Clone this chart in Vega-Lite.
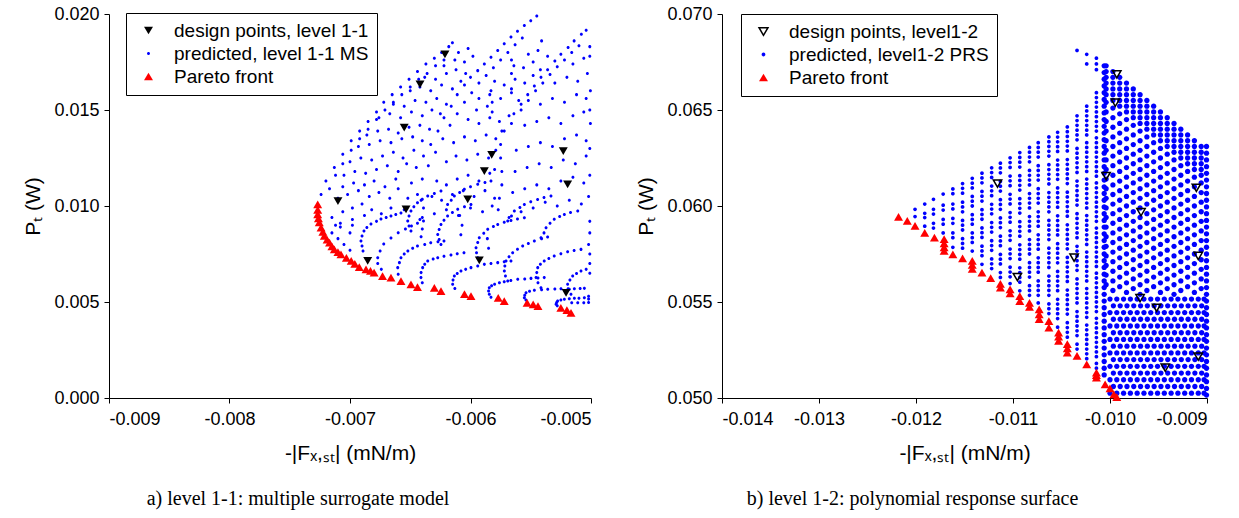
{
"$schema":"https://vega.github.io/schema/vega-lite/v6.json",
"background":"white",
"padding":{"left":22,"top":5,"right":5,"bottom":5},
"spacing":43,
"config":{"view":{"stroke":null},"font":"Liberation Sans",
"axis":{"domainColor":"black","tickColor":"black","labelColor":"black","titleColor":"black","labelFont":"Liberation Sans","titleFont":"Liberation Sans","labelFontSize":18,"titleFontSize":21,"titleFontWeight":"normal","grid":false,"tickSize":5,"domainWidth":1,"tickWidth":1,"labelPadding":5},
"legend":{"labelFont":"Liberation Sans","labelFontSize":19,"labelColor":"black","strokeColor":"black","fillColor":"white","padding":8,"rowPadding":3,"labelOffset":16,"symbolOffset":5,"symbolSize":80,"symbolStrokeWidth":1.5,"cornerRadius":0,"labelLimit":400}},
"datasets":{
"l_des":[{"x":-0.0071,"y":0.01026},{"x":-0.006535,"y":0.00983},{"x":-0.006023,"y":0.01035},{"x":-0.005885,"y":0.01182},{"x":-0.005194,"y":0.01113},{"x":-0.006853,"y":0.00714},{"x":-0.005927,"y":0.00717},{"x":-0.005207,"y":0.00548},{"x":-0.006212,"y":0.0179},{"x":-0.006419,"y":0.01634},{"x":-0.00655,"y":0.01408},{"x":-0.005824,"y":0.01266},{"x":-0.00523,"y":0.01286}],
"l_par":[{"x":-0.007268,"y":0.01009},{"x":-0.007268,"y":0.0098},{"x":-0.007268,"y":0.00957},{"x":-0.007262,"y":0.00935},{"x":-0.007255,"y":0.00915},{"x":-0.00724,"y":0.00887},{"x":-0.007225,"y":0.00865},{"x":-0.007213,"y":0.00844},{"x":-0.00719,"y":0.00825},{"x":-0.00717,"y":0.00809},{"x":-0.00715,"y":0.0079},{"x":-0.00713,"y":0.00774},{"x":-0.0071,"y":0.0076},{"x":-0.007075,"y":0.00748},{"x":-0.00703,"y":0.0073},{"x":-0.00699,"y":0.00714},{"x":-0.00696,"y":0.00698},{"x":-0.006923,"y":0.00682},{"x":-0.006867,"y":0.0067},{"x":-0.00683,"y":0.00662},{"x":-0.0068,"y":0.00653},{"x":-0.00673,"y":0.00635},{"x":-0.00666,"y":0.00627},{"x":-0.006577,"y":0.00609},{"x":-0.006494,"y":0.00592},{"x":-0.00644,"y":0.00578},{"x":-0.0063,"y":0.00574},{"x":-0.006245,"y":0.00557},{"x":-0.00605,"y":0.00541},{"x":-0.005996,"y":0.00531},{"x":-0.00577,"y":0.00522},{"x":-0.00572,"y":0.00505},{"x":-0.00553,"y":0.00496},{"x":-0.00548,"y":0.00488},{"x":-0.00544,"y":0.00479},{"x":-0.00525,"y":0.0047},{"x":-0.0052,"y":0.00458},{"x":-0.005166,"y":0.00444}],
"l_pred":[{"x":-0.00724,"y":0.0106},{"x":-0.0072,"y":0.0113},{"x":-0.00713,"y":0.012},{"x":-0.00706,"y":0.0127},{"x":-0.00699,"y":0.0134},{"x":-0.00692,"y":0.0139},{"x":-0.00685,"y":0.0144},{"x":-0.00678,"y":0.0149},{"x":-0.00672,"y":0.0154},{"x":-0.00665,"y":0.0158},{"x":-0.00658,"y":0.0162},{"x":-0.00651,"y":0.0166},{"x":-0.00644,"y":0.017},{"x":-0.00637,"y":0.0174},{"x":-0.0063,"y":0.0177},{"x":-0.00624,"y":0.018},{"x":-0.00618,"y":0.0183},{"x":-0.00615,"y":0.0185},
{"x":-0.00717,"y":0.0109},{"x":-0.00712,"y":0.0116},{"x":-0.00706,"y":0.0122},{"x":-0.00699,"y":0.0129},{"x":-0.00692,"y":0.0135},{"x":-0.00685,"y":0.014},{"x":-0.00678,"y":0.0145},{"x":-0.00671,"y":0.015},{"x":-0.00664,"y":0.0154},{"x":-0.00657,"y":0.0158},{"x":-0.0065,"y":0.0162},{"x":-0.00643,"y":0.0166},{"x":-0.00636,"y":0.0169},{"x":-0.00629,"y":0.0173},{"x":-0.00622,"y":0.0176},
{"x":-0.00715,"y":0.0094},{"x":-0.00706,"y":0.0097},{"x":-0.00698,"y":0.0099},{"x":-0.0069,"y":0.0101},{"x":-0.00682,"y":0.0098},{"x":-0.00674,"y":0.0096},{"x":-0.00666,"y":0.0099},{"x":-0.00708,"y":0.0091},{"x":-0.00698,"y":0.0093},{"x":-0.00688,"y":0.0095},
{"x":-0.0071,"y":0.0104},{"x":-0.00702,"y":0.0106},{"x":-0.00693,"y":0.0108},{"x":-0.00684,"y":0.0105},{"x":-0.00676,"y":0.0107},{"x":-0.00667,"y":0.0104},{"x":-0.0066,"y":0.0109},{"x":-0.00706,"y":0.011},{"x":-0.00697,"y":0.0112},{"x":-0.00688,"y":0.0111},{"x":-0.0068,"y":0.0113},{"x":-0.00671,"y":0.011},{"x":-0.00662,"y":0.0114},
{"x":-0.00705,"y":0.0116},{"x":-0.00696,"y":0.0118},{"x":-0.00687,"y":0.0117},{"x":-0.00678,"y":0.0119},{"x":-0.00669,"y":0.0121},{"x":-0.0066,"y":0.0118},{"x":-0.00653,"y":0.0122},{"x":-0.007,"y":0.0123},{"x":-0.00691,"y":0.0125},{"x":-0.00682,"y":0.0124},{"x":-0.00673,"y":0.0126},{"x":-0.00664,"y":0.0128},{"x":-0.00656,"y":0.0125},{"x":-0.00647,"y":0.0129},
{"x":-0.00693,"y":0.0131},{"x":-0.00684,"y":0.0132},{"x":-0.00675,"y":0.0134},{"x":-0.00666,"y":0.0133},{"x":-0.00657,"y":0.0135},{"x":-0.00648,"y":0.0136},{"x":-0.0064,"y":0.0134},{"x":-0.00686,"y":0.0137},{"x":-0.00677,"y":0.0139},{"x":-0.00668,"y":0.014},{"x":-0.0066,"y":0.0138},{"x":-0.00651,"y":0.0141},{"x":-0.00642,"y":0.0142},{"x":-0.00634,"y":0.014},
{"x":-0.00676,"y":0.0146},{"x":-0.00667,"y":0.0148},{"x":-0.00658,"y":0.0146},{"x":-0.00649,"y":0.0149},{"x":-0.0064,"y":0.0147},{"x":-0.00632,"y":0.015},{"x":-0.00625,"y":0.0148},{"x":-0.00664,"y":0.0153},{"x":-0.00655,"y":0.0152},{"x":-0.00646,"y":0.0155},{"x":-0.00637,"y":0.0154},{"x":-0.00628,"y":0.0156},{"x":-0.0062,"y":0.0153},
{"x":-0.0065,"y":0.016},{"x":-0.00642,"y":0.0162},{"x":-0.00633,"y":0.016},{"x":-0.00624,"y":0.0163},{"x":-0.00615,"y":0.0161},{"x":-0.00608,"y":0.0165},{"x":-0.00638,"y":0.0167},{"x":-0.00629,"y":0.0166},{"x":-0.0062,"y":0.0169},{"x":-0.00612,"y":0.0171},{"x":-0.00604,"y":0.0169},
{"x":-0.00622,"y":0.0173},{"x":-0.00613,"y":0.0176},{"x":-0.00605,"y":0.0175},{"x":-0.00598,"y":0.0178},{"x":-0.0061,"y":0.018},{"x":-0.00602,"y":0.0182},
{"x":-0.00655,"y":0.0098},{"x":-0.00652,"y":0.0104},{"x":-0.00649,"y":0.0112},{"x":-0.00645,"y":0.012},{"x":-0.00639,"y":0.0126},{"x":-0.00633,"y":0.0132},{"x":-0.00627,"y":0.0139},{"x":-0.00622,"y":0.0146},{"x":-0.00616,"y":0.0152},{"x":-0.00611,"y":0.0158},{"x":-0.00605,"y":0.0163},{"x":-0.006,"y":0.0167},{"x":-0.00594,"y":0.01705},{"x":-0.005885,"y":0.0174},{"x":-0.00583,"y":0.01775},{"x":-0.005774,"y":0.0181},{"x":-0.00572,"y":0.01845},{"x":-0.005664,"y":0.0188},{"x":-0.00561,"y":0.0191},{"x":-0.005553,"y":0.0194},{"x":-0.0055,"y":0.01965},{"x":-0.00545,"y":0.0199},
{"x":-0.00644,"y":0.0106},{"x":-0.0064,"y":0.0114},{"x":-0.00635,"y":0.0121},{"x":-0.00629,"y":0.0128},{"x":-0.00623,"y":0.0135},{"x":-0.00617,"y":0.0142},{"x":-0.00611,"y":0.0148},{"x":-0.00605,"y":0.0154},{"x":-0.00599,"y":0.0159},{"x":-0.00593,"y":0.0164},{"x":-0.00587,"y":0.0168},{"x":-0.00581,"y":0.0172},{"x":-0.00575,"y":0.0176},{"x":-0.00569,"y":0.018},{"x":-0.00563,"y":0.0184},{"x":-0.00557,"y":0.01875},
{"x":-0.0064,"y":0.0094},{"x":-0.0063,"y":0.0096},{"x":-0.0062,"y":0.0098},{"x":-0.0061,"y":0.0095},{"x":-0.006,"y":0.0099},{"x":-0.0059,"y":0.0097},{"x":-0.00582,"y":0.01},
{"x":-0.00632,"y":0.0105},{"x":-0.00624,"y":0.0103},{"x":-0.00615,"y":0.0106},{"x":-0.00606,"y":0.0108},{"x":-0.00597,"y":0.0105},{"x":-0.00588,"y":0.0108},{"x":-0.0058,"y":0.0104},
{"x":-0.00628,"y":0.0113},{"x":-0.0062,"y":0.0111},{"x":-0.00611,"y":0.0114},{"x":-0.00602,"y":0.0116},{"x":-0.00593,"y":0.0113},{"x":-0.00584,"y":0.0117},{"x":-0.0058,"y":0.0119},
{"x":-0.0062,"y":0.0123},{"x":-0.00612,"y":0.0126},{"x":-0.00603,"y":0.0124},{"x":-0.00594,"y":0.0127},{"x":-0.00585,"y":0.0125},{"x":-0.00579,"y":0.0129},
{"x":-0.00614,"y":0.0133},{"x":-0.00605,"y":0.0136},{"x":-0.00596,"y":0.0134},{"x":-0.00587,"y":0.0137},{"x":-0.00579,"y":0.0135},{"x":-0.00574,"y":0.0139},
{"x":-0.00602,"y":0.0145},{"x":-0.00593,"y":0.0143},{"x":-0.00584,"y":0.0146},{"x":-0.00576,"y":0.0144},{"x":-0.00568,"y":0.0147},{"x":-0.00595,"y":0.015},{"x":-0.00586,"y":0.0152},
{"x":-0.00593,"y":0.0156},{"x":-0.00584,"y":0.0158},{"x":-0.00575,"y":0.0156},{"x":-0.00566,"y":0.0159},{"x":-0.0056,"y":0.0155},
{"x":-0.0058,"y":0.0165},{"x":-0.00572,"y":0.0163},{"x":-0.00563,"y":0.0166},{"x":-0.00555,"y":0.0164},{"x":-0.00548,"y":0.0168},
{"x":-0.00564,"y":0.0173},{"x":-0.00556,"y":0.0172},{"x":-0.00548,"y":0.0175},{"x":-0.00542,"y":0.0171},{"x":-0.00552,"y":0.0179},{"x":-0.00544,"y":0.0181},{"x":-0.00536,"y":0.0178},{"x":-0.00541,"y":0.0186},
{"x":-0.00582,"y":0.0149},{"x":-0.00582,"y":0.0154},{"x":-0.00583,"y":0.016},{"x":-0.00566,"y":0.0161},{"x":-0.00566,"y":0.0169},{"x":-0.00566,"y":0.0176},
{"x":-0.00577,"y":0.0098},{"x":-0.00576,"y":0.0104},{"x":-0.00574,"y":0.0111},{"x":-0.00574,"y":0.0118},{"x":-0.00575,"y":0.0125},{"x":-0.00575,"y":0.0132},{"x":-0.00572,"y":0.0139},{"x":-0.00564,"y":0.0148},{"x":-0.00558,"y":0.0153},{"x":-0.005525,"y":0.0158},{"x":-0.00547,"y":0.01625},{"x":-0.005415,"y":0.0167},{"x":-0.00536,"y":0.0171},{"x":-0.0053,"y":0.01755},{"x":-0.00525,"y":0.0179},{"x":-0.00519,"y":0.01825},{"x":-0.00514,"y":0.0186},{"x":-0.00508,"y":0.01895},{"x":-0.00504,"y":0.01915},
{"x":-0.00566,"y":0.0143},{"x":-0.00558,"y":0.015},{"x":-0.00552,"y":0.0155},{"x":-0.00546,"y":0.016},{"x":-0.0054,"y":0.0164},{"x":-0.00534,"y":0.01685},{"x":-0.00528,"y":0.01725},{"x":-0.00522,"y":0.0176},{"x":-0.00516,"y":0.018},{"x":-0.0051,"y":0.01835},
{"x":-0.00568,"y":0.0094},{"x":-0.00558,"y":0.0097},{"x":-0.00548,"y":0.0099},{"x":-0.00538,"y":0.0102},{"x":-0.00528,"y":0.01},{"x":-0.00518,"y":0.0103},{"x":-0.00508,"y":0.0101},{"x":-0.00502,"y":0.0105},
{"x":-0.00565,"y":0.0107},{"x":-0.00555,"y":0.0109},{"x":-0.00545,"y":0.0111},{"x":-0.00535,"y":0.0109},{"x":-0.00525,"y":0.0113},{"x":-0.00515,"y":0.0115},{"x":-0.00506,"y":0.0112},
{"x":-0.00563,"y":0.0118},{"x":-0.00553,"y":0.012},{"x":-0.00543,"y":0.0122},{"x":-0.00533,"y":0.012},{"x":-0.00523,"y":0.0124},{"x":-0.00513,"y":0.0122},{"x":-0.00504,"y":0.0126},
{"x":-0.00562,"y":0.0129},{"x":-0.00552,"y":0.0131},{"x":-0.00542,"y":0.0133},{"x":-0.00532,"y":0.0131},{"x":-0.00522,"y":0.0135},{"x":-0.00512,"y":0.0137},{"x":-0.00504,"y":0.0134},
{"x":-0.00555,"y":0.0142},{"x":-0.00545,"y":0.0144},{"x":-0.00535,"y":0.0146},{"x":-0.00525,"y":0.0143},{"x":-0.00515,"y":0.0147},{"x":-0.00506,"y":0.0149},
{"x":-0.00542,"y":0.0153},{"x":-0.00532,"y":0.0156},{"x":-0.00522,"y":0.0154},{"x":-0.00512,"y":0.0158},{"x":-0.00504,"y":0.0156},
{"x":-0.0053,"y":0.0164},{"x":-0.0052,"y":0.0167},{"x":-0.00511,"y":0.0165},{"x":-0.00503,"y":0.0169},{"x":-0.00515,"y":0.0174},{"x":-0.00506,"y":0.0177},{"x":-0.00501,"y":0.0183},
{"x":-0.006892,"y":0.00766},{"x":-0.0069,"y":0.00792},{"x":-0.006909,"y":0.00818},{"x":-0.0069,"y":0.00844},{"x":-0.006884,"y":0.0087},{"x":-0.00686,"y":0.00888},{"x":-0.006826,"y":0.00906},{"x":-0.00678,"y":0.0092},{"x":-0.006743,"y":0.00932},{"x":-0.0067,"y":0.0094},{"x":-0.00666,"y":0.00948},{"x":-0.00662,"y":0.00956},{"x":-0.006577,"y":0.00964},
{"x":-0.00674,"y":0.0067},{"x":-0.00677,"y":0.007},{"x":-0.00677,"y":0.00731},{"x":-0.00675,"y":0.00766},{"x":-0.00672,"y":0.00802},{"x":-0.00666,"y":0.00833},{"x":-0.0066,"y":0.00861},{"x":-0.00654,"y":0.0088},{"x":-0.00649,"y":0.00896},{"x":-0.00644,"y":0.0091},{"x":-0.00639,"y":0.00922},
{"x":-0.0066,"y":0.00645},{"x":-0.006604,"y":0.00679},{"x":-0.00659,"y":0.00705},{"x":-0.006577,"y":0.00731},{"x":-0.00655,"y":0.0075},{"x":-0.00652,"y":0.00766},{"x":-0.00648,"y":0.0078},{"x":-0.00644,"y":0.00792},{"x":-0.00638,"y":0.008},{"x":-0.00633,"y":0.00809},{"x":-0.00627,"y":0.00814},{"x":-0.00622,"y":0.00818},
{"x":-0.0064,"y":0.006},{"x":-0.006411,"y":0.00627},{"x":-0.00641,"y":0.00653},{"x":-0.006397,"y":0.00679},{"x":-0.00638,"y":0.00697},{"x":-0.006355,"y":0.00714},{"x":-0.00631,"y":0.00724},{"x":-0.006272,"y":0.00731},{"x":-0.00622,"y":0.00738},{"x":-0.006162,"y":0.00745},{"x":-0.00611,"y":0.00751},{"x":-0.006054,"y":0.00757},
{"x":-0.00613,"y":0.0057},{"x":-0.006148,"y":0.00592},{"x":-0.006145,"y":0.00614},{"x":-0.006134,"y":0.00635},{"x":-0.00611,"y":0.00648},{"x":-0.006079,"y":0.00661},{"x":-0.00604,"y":0.0067},{"x":-0.005996,"y":0.00679},{"x":-0.00594,"y":0.00688},{"x":-0.005885,"y":0.00696},{"x":-0.00583,"y":0.007},{"x":-0.005774,"y":0.00705},{"x":-0.00572,"y":0.0071},{"x":-0.005664,"y":0.00714},
{"x":-0.00583,"y":0.00525},{"x":-0.005844,"y":0.0054},{"x":-0.00585,"y":0.00557},{"x":-0.005844,"y":0.00574},{"x":-0.005825,"y":0.00585},{"x":-0.0058,"y":0.00592},{"x":-0.00576,"y":0.006},{"x":-0.00572,"y":0.00606},{"x":-0.005665,"y":0.00612},{"x":-0.005608,"y":0.00618},{"x":-0.00555,"y":0.0062},{"x":-0.005498,"y":0.00623},{"x":-0.00544,"y":0.00625},{"x":-0.005388,"y":0.00627},
{"x":-0.00554,"y":0.0051},{"x":-0.005553,"y":0.00522},{"x":-0.00555,"y":0.00535},{"x":-0.005539,"y":0.00548},{"x":-0.00551,"y":0.00556},{"x":-0.00547,"y":0.00561},{"x":-0.00541,"y":0.00564},{"x":-0.005359,"y":0.00566},{"x":-0.0053,"y":0.00568},{"x":-0.005249,"y":0.00569},{"x":-0.00519,"y":0.00569},{"x":-0.005138,"y":0.00569},{"x":-0.00509,"y":0.0057},{"x":-0.005055,"y":0.00571},
{"x":-0.00528,"y":0.0048},{"x":-0.00529,"y":0.00488},{"x":-0.005285,"y":0.00497},{"x":-0.005277,"y":0.00505},{"x":-0.00525,"y":0.0051},{"x":-0.005221,"y":0.00514},{"x":-0.00518,"y":0.00517},{"x":-0.005138,"y":0.00519},{"x":-0.0051,"y":0.0052},{"x":-0.005055,"y":0.00522},
{"x":-0.00516,"y":0.00496},{"x":-0.00511,"y":0.00496},{"x":-0.00506,"y":0.00496},{"x":-0.00502,"y":0.00497},{"x":-0.00502,"y":0.00515},{"x":-0.00502,"y":0.0053},
{"x":-0.00594,"y":0.00731},{"x":-0.00595,"y":0.00757},{"x":-0.005954,"y":0.00783},{"x":-0.00594,"y":0.0081},{"x":-0.005927,"y":0.00835},{"x":-0.00589,"y":0.00858},{"x":-0.005857,"y":0.00879},{"x":-0.00581,"y":0.00893},{"x":-0.005774,"y":0.00904},{"x":-0.00572,"y":0.00915},{"x":-0.005664,"y":0.00925},{"x":-0.00561,"y":0.00932},{"x":-0.005553,"y":0.00939},
{"x":-0.005691,"y":0.00609},{"x":-0.00571,"y":0.00635},{"x":-0.005719,"y":0.00661},{"x":-0.005715,"y":0.00688},{"x":-0.005705,"y":0.00714},{"x":-0.00568,"y":0.00736},{"x":-0.00565,"y":0.00757},{"x":-0.00561,"y":0.00775},{"x":-0.005567,"y":0.00792},{"x":-0.00552,"y":0.00805},{"x":-0.00547,"y":0.00818},{"x":-0.00541,"y":0.00829},{"x":-0.00536,"y":0.00839},
{"x":-0.005415,"y":0.00574},{"x":-0.00544,"y":0.006},{"x":-0.005456,"y":0.00627},{"x":-0.00545,"y":0.00653},{"x":-0.005442,"y":0.00679},{"x":-0.00542,"y":0.00697},{"x":-0.005388,"y":0.00714},{"x":-0.00535,"y":0.00727},{"x":-0.005305,"y":0.0074},{"x":-0.00525,"y":0.00751},{"x":-0.005194,"y":0.00762},{"x":-0.00514,"y":0.00768},{"x":-0.005083,"y":0.00774},
{"x":-0.005166,"y":0.0054},{"x":-0.00518,"y":0.00566},{"x":-0.005194,"y":0.00592},{"x":-0.005175,"y":0.00614},{"x":-0.005152,"y":0.00635},{"x":-0.00512,"y":0.00648},{"x":-0.005083,"y":0.00661},{"x":-0.00504,"y":0.0067},
{"x":-0.006494,"y":0.0087},{"x":-0.00651,"y":0.00896},{"x":-0.006521,"y":0.00922},{"x":-0.00651,"y":0.00948},{"x":-0.006494,"y":0.00974},{"x":-0.00647,"y":0.00996},{"x":-0.00644,"y":0.01017},{"x":-0.0064,"y":0.01035},{"x":-0.006355,"y":0.01052},{"x":-0.0063,"y":0.01065},{"x":-0.006245,"y":0.01078},
{"x":-0.006245,"y":0.008},{"x":-0.00626,"y":0.00826},{"x":-0.006272,"y":0.00852},{"x":-0.00626,"y":0.00878},{"x":-0.006245,"y":0.00904},{"x":-0.00622,"y":0.00926},{"x":-0.00619,"y":0.00948},{"x":-0.00615,"y":0.00966},{"x":-0.006106,"y":0.00983},{"x":-0.00605,"y":0.00996},{"x":-0.005996,"y":0.01008},
{"x":-0.00619,"y":0.01008},{"x":-0.00616,"y":0.0103},{"x":-0.006134,"y":0.01052},{"x":-0.00609,"y":0.0107},{"x":-0.006051,"y":0.01087},{"x":-0.006,"y":0.011},{"x":-0.00594,"y":0.01113},{"x":-0.00588,"y":0.01122},{"x":-0.00583,"y":0.0113},
{"x":-0.005415,"y":0.00835},{"x":-0.00539,"y":0.0086},{"x":-0.005373,"y":0.00887},{"x":-0.00534,"y":0.0091},{"x":-0.005305,"y":0.00931},{"x":-0.00526,"y":0.00945},{"x":-0.005221,"y":0.00956},{"x":-0.00517,"y":0.00966},{"x":-0.00511,"y":0.00974},
{"x":-0.005691,"y":0.00922},{"x":-0.00566,"y":0.00948},{"x":-0.005636,"y":0.00974},{"x":-0.00559,"y":0.00992},{"x":-0.005553,"y":0.01008},{"x":-0.0055,"y":0.01022},{"x":-0.005443,"y":0.01034},{"x":-0.00539,"y":0.01044},{"x":-0.005332,"y":0.01052},
{"x":-0.00641,"y":0.0084},{"x":-0.0064,"y":0.0088},{"x":-0.00642,"y":0.0093},{"x":-0.00639,"y":0.0099},{"x":-0.00641,"y":0.0103},{"x":-0.00608,"y":0.0085},{"x":-0.00607,"y":0.009},{"x":-0.00609,"y":0.0095},{"x":-0.00585,"y":0.0078},{"x":-0.00586,"y":0.0083},
{"x":-0.00715,"y":0.0086},{"x":-0.0071,"y":0.0083},{"x":-0.00705,"y":0.008},{"x":-0.007,"y":0.0077},{"x":-0.00708,"y":0.0089},{"x":-0.007,"y":0.0086},{"x":-0.00698,"y":0.009},{"x":-0.00712,"y":0.009},
{"x":-0.00501,"y":0.0065},{"x":-0.00501,"y":0.007},{"x":-0.00501,"y":0.0075},{"x":-0.00502,"y":0.008},{"x":-0.00501,"y":0.0086},{"x":-0.00501,"y":0.0092},{"x":-0.00501,"y":0.0116},{"x":-0.00501,"y":0.013},{"x":-0.005005,"y":0.0143},{"x":-0.00501,"y":0.015},{"x":-0.005005,"y":0.016},{"x":-0.00501,"y":0.0178}],
"r_des":[{"x":-0.01116,"y":0.06117},{"x":-0.010955,"y":0.0563},{"x":-0.01037,"y":0.05731},{"x":-0.01004,"y":0.06156},{"x":-0.00993,"y":0.06686},{"x":-0.009945,"y":0.06538},{"x":-0.00968,"y":0.05968},{"x":-0.00969,"y":0.0552},{"x":-0.00952,"y":0.0547},{"x":-0.00943,"y":0.05158},{"x":-0.00909,"y":0.05216},{"x":-0.00911,"y":0.06095},{"x":-0.00909,"y":0.0574}],
"r_par":[{"x":-0.01218,"y":0.05943},{"x":-0.01209,"y":0.05922},{"x":-0.01201,"y":0.05896},{"x":-0.01191,"y":0.0586},{"x":-0.01181,"y":0.05835},{"x":-0.01171,"y":0.05828},{"x":-0.01171,"y":0.05805},{"x":-0.01171,"y":0.05785},{"x":-0.01171,"y":0.05766},{"x":-0.01162,"y":0.05748},{"x":-0.01152,"y":0.05727},{"x":-0.01142,"y":0.05714},{"x":-0.01142,"y":0.05693},{"x":-0.01142,"y":0.05672},{"x":-0.01132,"y":0.05653},{"x":-0.01123,"y":0.05624},{"x":-0.01113,"y":0.05595},{"x":-0.01113,"y":0.05575},{"x":-0.01103,"y":0.05566},{"x":-0.01103,"y":0.05545},{"x":-0.01093,"y":0.05531},{"x":-0.01093,"y":0.05505},{"x":-0.01083,"y":0.05496},{"x":-0.01083,"y":0.05475},{"x":-0.01073,"y":0.05462},{"x":-0.01073,"y":0.05435},{"x":-0.01073,"y":0.05411},{"x":-0.01063,"y":0.054},{"x":-0.01063,"y":0.05366},{"x":-0.01053,"y":0.0534},{"x":-0.01053,"y":0.0532},{"x":-0.01053,"y":0.05297},{"x":-0.01044,"y":0.0528},{"x":-0.01044,"y":0.05258},{"x":-0.01044,"y":0.05236},{"x":-0.01034,"y":0.05219},{"x":-0.01024,"y":0.05175},{"x":-0.01014,"y":0.05132},{"x":-0.01014,"y":0.05119},{"x":-0.01014,"y":0.05106},{"x":-0.01005,"y":0.05071},{"x":-0.01,"y":0.0505},{"x":-0.00996,"y":0.05019},{"x":-0.00993,"y":0.05005}],
"r_cols":[{"x":-0.01201,"y":0.05983},{"x":-0.01201,"y":0.05945},
{"x":-0.01191,"y":0.0601},{"x":-0.01191,"y":0.05962},{"x":-0.01191,"y":0.0594},{"x":-0.01191,"y":0.05895},
{"x":-0.01182,"y":0.06035},{"x":-0.01182,"y":0.05983},{"x":-0.01182,"y":0.05958},{"x":-0.01182,"y":0.0591},{"x":-0.01182,"y":0.05885},
{"x":-0.01172,"y":0.06062},{"x":-0.01172,"y":0.06004},{"x":-0.01172,"y":0.05979},{"x":-0.01172,"y":0.0593},{"x":-0.01172,"y":0.05905},{"x":-0.01172,"y":0.0586},
{"x":-0.01162,"y":0.06089},{"x":-0.01162,"y":0.06064},{"x":-0.01162,"y":0.0601},{"x":-0.01162,"y":0.05985},{"x":-0.01162,"y":0.05935},{"x":-0.01162,"y":0.0591},{"x":-0.01162,"y":0.0586},{"x":-0.01162,"y":0.05835},{"x":-0.01162,"y":0.05785},
{"x":-0.01152,"y":0.06117},{"x":-0.01152,"y":0.06092},{"x":-0.01152,"y":0.06067},{"x":-0.01152,"y":0.0602},{"x":-0.01152,"y":0.05995},{"x":-0.01152,"y":0.0597},{"x":-0.01152,"y":0.05925},{"x":-0.01152,"y":0.059},{"x":-0.01152,"y":0.05875},{"x":-0.01152,"y":0.0583},{"x":-0.01152,"y":0.05805},{"x":-0.01152,"y":0.0578},
{"x":-0.01142,"y":0.06144},{"x":-0.01142,"y":0.06119},{"x":-0.01142,"y":0.06094},{"x":-0.01142,"y":0.0605},{"x":-0.01142,"y":0.06025},{"x":-0.01142,"y":0.06},{"x":-0.01142,"y":0.05955},{"x":-0.01142,"y":0.0593},{"x":-0.01142,"y":0.05905},{"x":-0.01142,"y":0.0586},{"x":-0.01142,"y":0.05835},{"x":-0.01142,"y":0.0581},{"x":-0.01142,"y":0.05765},
{"x":-0.01132,"y":0.06171},{"x":-0.01132,"y":0.06146},{"x":-0.01132,"y":0.06121},{"x":-0.01132,"y":0.06076},{"x":-0.01132,"y":0.06051},{"x":-0.01132,"y":0.06026},{"x":-0.01132,"y":0.05981},{"x":-0.01132,"y":0.05956},{"x":-0.01132,"y":0.05931},{"x":-0.01132,"y":0.05886},{"x":-0.01132,"y":0.05861},{"x":-0.01132,"y":0.05836},{"x":-0.01132,"y":0.05791},{"x":-0.01132,"y":0.05766},{"x":-0.01132,"y":0.05741},{"x":-0.01132,"y":0.05696},
{"x":-0.01122,"y":0.06199},{"x":-0.01122,"y":0.06174},{"x":-0.01122,"y":0.06149},{"x":-0.01122,"y":0.06104},{"x":-0.01122,"y":0.06079},{"x":-0.01122,"y":0.06054},{"x":-0.01122,"y":0.06009},{"x":-0.01122,"y":0.05984},{"x":-0.01122,"y":0.05959},{"x":-0.01122,"y":0.05914},{"x":-0.01122,"y":0.05889},{"x":-0.01122,"y":0.05864},{"x":-0.01122,"y":0.05819},{"x":-0.01122,"y":0.05794},{"x":-0.01122,"y":0.05769},{"x":-0.01122,"y":0.05724},{"x":-0.01122,"y":0.05699},{"x":-0.01122,"y":0.05674},
{"x":-0.01113,"y":0.06223},{"x":-0.01113,"y":0.06198},{"x":-0.01113,"y":0.06173},{"x":-0.01113,"y":0.06128},{"x":-0.01113,"y":0.06103},{"x":-0.01113,"y":0.06078},{"x":-0.01113,"y":0.06033},{"x":-0.01113,"y":0.06008},{"x":-0.01113,"y":0.05983},{"x":-0.01113,"y":0.05938},{"x":-0.01113,"y":0.05913},{"x":-0.01113,"y":0.05888},{"x":-0.01113,"y":0.05843},{"x":-0.01113,"y":0.05818},{"x":-0.01113,"y":0.05793},{"x":-0.01113,"y":0.05748},{"x":-0.01113,"y":0.05723},{"x":-0.01113,"y":0.05698},{"x":-0.01113,"y":0.05653},{"x":-0.01113,"y":0.05628},
{"x":-0.01103,"y":0.06251},{"x":-0.01103,"y":0.06226},{"x":-0.01103,"y":0.06201},{"x":-0.01103,"y":0.06156},{"x":-0.01103,"y":0.06131},{"x":-0.01103,"y":0.06106},{"x":-0.01103,"y":0.06061},{"x":-0.01103,"y":0.06036},{"x":-0.01103,"y":0.06011},{"x":-0.01103,"y":0.05966},{"x":-0.01103,"y":0.05941},{"x":-0.01103,"y":0.05916},{"x":-0.01103,"y":0.05871},{"x":-0.01103,"y":0.05846},{"x":-0.01103,"y":0.05821},{"x":-0.01103,"y":0.05776},{"x":-0.01103,"y":0.05751},{"x":-0.01103,"y":0.05726},{"x":-0.01103,"y":0.05681},{"x":-0.01103,"y":0.05656},{"x":-0.01103,"y":0.05631},{"x":-0.01103,"y":0.05596},
{"x":-0.01093,"y":0.06278},{"x":-0.01093,"y":0.06253},{"x":-0.01093,"y":0.06228},{"x":-0.01093,"y":0.06203},{"x":-0.01093,"y":0.06158},{"x":-0.01093,"y":0.06133},{"x":-0.01093,"y":0.06108},{"x":-0.01093,"y":0.06083},{"x":-0.01093,"y":0.06038},{"x":-0.01093,"y":0.06013},{"x":-0.01093,"y":0.05988},{"x":-0.01093,"y":0.05963},{"x":-0.01093,"y":0.05918},{"x":-0.01093,"y":0.05893},{"x":-0.01093,"y":0.05868},{"x":-0.01093,"y":0.05843},{"x":-0.01093,"y":0.05798},{"x":-0.01093,"y":0.05773},{"x":-0.01093,"y":0.05748},{"x":-0.01093,"y":0.05723},{"x":-0.01093,"y":0.05678},{"x":-0.01093,"y":0.05653},{"x":-0.01093,"y":0.05628},{"x":-0.01093,"y":0.05603},{"x":-0.01093,"y":0.05558},
{"x":-0.01083,"y":0.06305},{"x":-0.01083,"y":0.0628},{"x":-0.01083,"y":0.06255},{"x":-0.01083,"y":0.0623},{"x":-0.01083,"y":0.06185},{"x":-0.01083,"y":0.0616},{"x":-0.01083,"y":0.06135},{"x":-0.01083,"y":0.0611},{"x":-0.01083,"y":0.06065},{"x":-0.01083,"y":0.0604},{"x":-0.01083,"y":0.06015},{"x":-0.01083,"y":0.0599},{"x":-0.01083,"y":0.05945},{"x":-0.01083,"y":0.0592},{"x":-0.01083,"y":0.05895},{"x":-0.01083,"y":0.0587},{"x":-0.01083,"y":0.05825},{"x":-0.01083,"y":0.058},{"x":-0.01083,"y":0.05775},{"x":-0.01083,"y":0.0575},{"x":-0.01083,"y":0.05705},{"x":-0.01083,"y":0.0568},{"x":-0.01083,"y":0.05655},{"x":-0.01083,"y":0.0563},{"x":-0.01083,"y":0.05585},{"x":-0.01083,"y":0.0556},{"x":-0.01083,"y":0.05535},
{"x":-0.01074,"y":0.0633},{"x":-0.01074,"y":0.06305},{"x":-0.01074,"y":0.0628},{"x":-0.01074,"y":0.06255},{"x":-0.01074,"y":0.0621},{"x":-0.01074,"y":0.06185},{"x":-0.01074,"y":0.0616},{"x":-0.01074,"y":0.06135},{"x":-0.01074,"y":0.0609},{"x":-0.01074,"y":0.06065},{"x":-0.01074,"y":0.0604},{"x":-0.01074,"y":0.06015},{"x":-0.01074,"y":0.0597},{"x":-0.01074,"y":0.05945},{"x":-0.01074,"y":0.0592},{"x":-0.01074,"y":0.05895},{"x":-0.01074,"y":0.0585},{"x":-0.01074,"y":0.05825},{"x":-0.01074,"y":0.058},{"x":-0.01074,"y":0.05775},{"x":-0.01074,"y":0.0573},{"x":-0.01074,"y":0.05705},{"x":-0.01074,"y":0.0568},{"x":-0.01074,"y":0.05655},{"x":-0.01074,"y":0.0561},{"x":-0.01074,"y":0.05585},{"x":-0.01074,"y":0.0556},{"x":-0.01074,"y":0.05535},{"x":-0.01074,"y":0.05495},
{"x":-0.01063,"y":0.0636},{"x":-0.01063,"y":0.06335},{"x":-0.01063,"y":0.0631},{"x":-0.01063,"y":0.06285},{"x":-0.01063,"y":0.0626},{"x":-0.01063,"y":0.06215},{"x":-0.01063,"y":0.0619},{"x":-0.01063,"y":0.06165},{"x":-0.01063,"y":0.0614},{"x":-0.01063,"y":0.06115},{"x":-0.01063,"y":0.0607},{"x":-0.01063,"y":0.06045},{"x":-0.01063,"y":0.0602},{"x":-0.01063,"y":0.05995},{"x":-0.01063,"y":0.0597},{"x":-0.01063,"y":0.05925},{"x":-0.01063,"y":0.059},{"x":-0.01063,"y":0.05875},{"x":-0.01063,"y":0.0585},{"x":-0.01063,"y":0.05825},{"x":-0.01063,"y":0.0578},{"x":-0.01063,"y":0.05755},{"x":-0.01063,"y":0.0573},{"x":-0.01063,"y":0.05705},{"x":-0.01063,"y":0.0568},{"x":-0.01063,"y":0.05635},{"x":-0.01063,"y":0.0561},{"x":-0.01063,"y":0.05585},{"x":-0.01063,"y":0.0556},{"x":-0.01063,"y":0.05535},{"x":-0.01063,"y":0.0549},{"x":-0.01063,"y":0.05465},{"x":-0.01063,"y":0.0544},
{"x":-0.01054,"y":0.06384},{"x":-0.01054,"y":0.06359},{"x":-0.01054,"y":0.06334},{"x":-0.01054,"y":0.06309},{"x":-0.01054,"y":0.06284},{"x":-0.01054,"y":0.06239},{"x":-0.01054,"y":0.06214},{"x":-0.01054,"y":0.06189},{"x":-0.01054,"y":0.06164},{"x":-0.01054,"y":0.06139},{"x":-0.01054,"y":0.06094},{"x":-0.01054,"y":0.06069},{"x":-0.01054,"y":0.06044},{"x":-0.01054,"y":0.06019},{"x":-0.01054,"y":0.05994},{"x":-0.01054,"y":0.05949},{"x":-0.01054,"y":0.05924},{"x":-0.01054,"y":0.05899},{"x":-0.01054,"y":0.05874},{"x":-0.01054,"y":0.05849},{"x":-0.01054,"y":0.05804},{"x":-0.01054,"y":0.05779},{"x":-0.01054,"y":0.05754},{"x":-0.01054,"y":0.05729},{"x":-0.01054,"y":0.05704},{"x":-0.01054,"y":0.05659},{"x":-0.01054,"y":0.05634},{"x":-0.01054,"y":0.05609},{"x":-0.01054,"y":0.05584},{"x":-0.01054,"y":0.05559},{"x":-0.01054,"y":0.05514},{"x":-0.01054,"y":0.05489},{"x":-0.01054,"y":0.05464},{"x":-0.01054,"y":0.05439},{"x":-0.01054,"y":0.05414},{"x":-0.01054,"y":0.05369},
{"x":-0.01044,"y":0.06412},{"x":-0.01044,"y":0.06387},{"x":-0.01044,"y":0.06362},{"x":-0.01044,"y":0.06337},{"x":-0.01044,"y":0.06312},{"x":-0.01044,"y":0.06287},{"x":-0.01044,"y":0.06242},{"x":-0.01044,"y":0.06217},{"x":-0.01044,"y":0.06192},{"x":-0.01044,"y":0.06167},{"x":-0.01044,"y":0.06142},{"x":-0.01044,"y":0.06117},{"x":-0.01044,"y":0.06072},{"x":-0.01044,"y":0.06047},{"x":-0.01044,"y":0.06022},{"x":-0.01044,"y":0.05997},{"x":-0.01044,"y":0.05972},{"x":-0.01044,"y":0.05947},{"x":-0.01044,"y":0.05902},{"x":-0.01044,"y":0.05877},{"x":-0.01044,"y":0.05852},{"x":-0.01044,"y":0.05827},{"x":-0.01044,"y":0.05802},{"x":-0.01044,"y":0.05777},{"x":-0.01044,"y":0.05732},{"x":-0.01044,"y":0.05707},{"x":-0.01044,"y":0.05682},{"x":-0.01044,"y":0.05657},{"x":-0.01044,"y":0.05632},{"x":-0.01044,"y":0.05607},{"x":-0.01044,"y":0.05562},{"x":-0.01044,"y":0.05537},{"x":-0.01044,"y":0.05512},{"x":-0.01044,"y":0.05487},{"x":-0.01044,"y":0.05462},{"x":-0.01044,"y":0.05437},{"x":-0.01044,"y":0.05392},{"x":-0.01044,"y":0.05367},{"x":-0.01044,"y":0.05342},{"x":-0.01044,"y":0.05317},
{"x":-0.01034,"y":0.0681},{"x":-0.01034,"y":0.0647},{"x":-0.01034,"y":0.06445},{"x":-0.01034,"y":0.0642},{"x":-0.01034,"y":0.06395},{"x":-0.01034,"y":0.0637},{"x":-0.01034,"y":0.06345},{"x":-0.01034,"y":0.063},{"x":-0.01034,"y":0.06275},{"x":-0.01034,"y":0.0625},{"x":-0.01034,"y":0.06225},{"x":-0.01034,"y":0.062},{"x":-0.01034,"y":0.06175},{"x":-0.01034,"y":0.0613},{"x":-0.01034,"y":0.06105},{"x":-0.01034,"y":0.0608},{"x":-0.01034,"y":0.06055},{"x":-0.01034,"y":0.0603},{"x":-0.01034,"y":0.06005},{"x":-0.01034,"y":0.0596},{"x":-0.01034,"y":0.05935},{"x":-0.01034,"y":0.0591},{"x":-0.01034,"y":0.05885},{"x":-0.01034,"y":0.0586},{"x":-0.01034,"y":0.05835},{"x":-0.01034,"y":0.0579},{"x":-0.01034,"y":0.05765},{"x":-0.01034,"y":0.0574},{"x":-0.01034,"y":0.05715},{"x":-0.01034,"y":0.0569},{"x":-0.01034,"y":0.05665},{"x":-0.01034,"y":0.0562},{"x":-0.01034,"y":0.05595},{"x":-0.01034,"y":0.0557},{"x":-0.01034,"y":0.05545},{"x":-0.01034,"y":0.0552},{"x":-0.01034,"y":0.05495},{"x":-0.01034,"y":0.0545},{"x":-0.01034,"y":0.05425},{"x":-0.01034,"y":0.054},{"x":-0.01034,"y":0.05375},{"x":-0.01034,"y":0.0535},{"x":-0.01034,"y":0.05325},{"x":-0.01034,"y":0.0528},{"x":-0.01034,"y":0.05255},
{"x":-0.01024,"y":0.0679},{"x":-0.01024,"y":0.0674},{"x":-0.01024,"y":0.0652},{"x":-0.01024,"y":0.06495},{"x":-0.01024,"y":0.0647},{"x":-0.01024,"y":0.06445},{"x":-0.01024,"y":0.0642},{"x":-0.01024,"y":0.06395},{"x":-0.01024,"y":0.0637},{"x":-0.01024,"y":0.0633},{"x":-0.01024,"y":0.06305},{"x":-0.01024,"y":0.0628},{"x":-0.01024,"y":0.06255},{"x":-0.01024,"y":0.0623},{"x":-0.01024,"y":0.06205},{"x":-0.01024,"y":0.0618},{"x":-0.01024,"y":0.0614},{"x":-0.01024,"y":0.06115},{"x":-0.01024,"y":0.0609},{"x":-0.01024,"y":0.06065},{"x":-0.01024,"y":0.0604},{"x":-0.01024,"y":0.06015},{"x":-0.01024,"y":0.0599},{"x":-0.01024,"y":0.0595},{"x":-0.01024,"y":0.05925},{"x":-0.01024,"y":0.059},{"x":-0.01024,"y":0.05875},{"x":-0.01024,"y":0.0585},{"x":-0.01024,"y":0.05825},{"x":-0.01024,"y":0.058},{"x":-0.01024,"y":0.0576},{"x":-0.01024,"y":0.05735},{"x":-0.01024,"y":0.0571},{"x":-0.01024,"y":0.05685},{"x":-0.01024,"y":0.0566},{"x":-0.01024,"y":0.05635},{"x":-0.01024,"y":0.0561},{"x":-0.01024,"y":0.0557},{"x":-0.01024,"y":0.05545},{"x":-0.01024,"y":0.0552},{"x":-0.01024,"y":0.05495},{"x":-0.01024,"y":0.0547},{"x":-0.01024,"y":0.05445},{"x":-0.01024,"y":0.0542},{"x":-0.01024,"y":0.0538},{"x":-0.01024,"y":0.05355},{"x":-0.01024,"y":0.0533},{"x":-0.01024,"y":0.05305},{"x":-0.01024,"y":0.0528},{"x":-0.01024,"y":0.05255},{"x":-0.01024,"y":0.0523},{"x":-0.01024,"y":0.05205},
{"x":-0.01014,"y":0.0677},{"x":-0.01014,"y":0.0674},{"x":-0.01014,"y":0.0671},{"x":-0.01014,"y":0.0659},{"x":-0.01014,"y":0.06565},{"x":-0.01014,"y":0.0654},{"x":-0.01014,"y":0.06515},{"x":-0.01014,"y":0.0649},{"x":-0.01014,"y":0.06465},{"x":-0.01014,"y":0.0644},{"x":-0.01014,"y":0.06415},{"x":-0.01014,"y":0.0639},{"x":-0.01014,"y":0.06355},{"x":-0.01014,"y":0.0633},{"x":-0.01014,"y":0.06305},{"x":-0.01014,"y":0.0628},{"x":-0.01014,"y":0.06255},{"x":-0.01014,"y":0.0623},{"x":-0.01014,"y":0.06205},{"x":-0.01014,"y":0.0618},{"x":-0.01014,"y":0.06155},{"x":-0.01014,"y":0.0612},{"x":-0.01014,"y":0.06095},{"x":-0.01014,"y":0.0607},{"x":-0.01014,"y":0.06045},{"x":-0.01014,"y":0.0602},{"x":-0.01014,"y":0.05995},{"x":-0.01014,"y":0.0597},{"x":-0.01014,"y":0.05945},{"x":-0.01014,"y":0.0592},{"x":-0.01014,"y":0.05885},{"x":-0.01014,"y":0.0586},{"x":-0.01014,"y":0.05835},{"x":-0.01014,"y":0.0581},{"x":-0.01014,"y":0.05785},{"x":-0.01014,"y":0.0576},{"x":-0.01014,"y":0.05735},{"x":-0.01014,"y":0.0571},{"x":-0.01014,"y":0.05685},{"x":-0.01014,"y":0.0565},{"x":-0.01014,"y":0.05625},{"x":-0.01014,"y":0.056},{"x":-0.01014,"y":0.05575},{"x":-0.01014,"y":0.0555},{"x":-0.01014,"y":0.05525},{"x":-0.01014,"y":0.055},{"x":-0.01014,"y":0.05475},{"x":-0.01014,"y":0.0545},{"x":-0.01014,"y":0.05415},{"x":-0.01014,"y":0.0539},{"x":-0.01014,"y":0.05365},{"x":-0.01014,"y":0.0534},{"x":-0.01014,"y":0.05315},{"x":-0.01014,"y":0.0529},{"x":-0.01014,"y":0.05265},{"x":-0.01014,"y":0.0524},{"x":-0.01014,"y":0.05215},{"x":-0.01014,"y":0.0518},{"x":-0.01014,"y":0.05155}],
"r_dense":[
{"x":-0.01004,"y":0.0673},{"x":-0.00997,"y":0.067},{"x":-0.0099,"y":0.0667},{"x":-0.00983,"y":0.0664},{"x":-0.00976,"y":0.0661},{"x":-0.00969,"y":0.0658},{"x":-0.00962,"y":0.0655},{"x":-0.00955,"y":0.0652},{"x":-0.00948,"y":0.0649},{"x":-0.00941,"y":0.0646},{"x":-0.00934,"y":0.0643},{"x":-0.00927,"y":0.064},{"x":-0.0092,"y":0.0637},{"x":-0.00913,"y":0.0634},{"x":-0.00906,"y":0.0631},
{"x":-0.01004,"y":0.067},{"x":-0.00997,"y":0.0667},{"x":-0.0099,"y":0.0664},{"x":-0.00983,"y":0.0661},{"x":-0.00976,"y":0.0658},{"x":-0.00969,"y":0.0655},{"x":-0.00962,"y":0.0652},{"x":-0.00955,"y":0.0649},{"x":-0.00948,"y":0.0646},{"x":-0.00941,"y":0.0643},{"x":-0.00934,"y":0.064},{"x":-0.00927,"y":0.0637},{"x":-0.0092,"y":0.0634},{"x":-0.00913,"y":0.0631},{"x":-0.00906,"y":0.0628},
{"x":-0.01004,"y":0.0667},{"x":-0.00997,"y":0.0664},{"x":-0.0099,"y":0.0661},{"x":-0.00983,"y":0.0658},{"x":-0.00976,"y":0.0655},{"x":-0.00969,"y":0.0652},{"x":-0.00962,"y":0.0649},{"x":-0.00955,"y":0.0646},{"x":-0.00948,"y":0.0643},{"x":-0.00941,"y":0.064},{"x":-0.00934,"y":0.0637},{"x":-0.00927,"y":0.0634},{"x":-0.0092,"y":0.0631},{"x":-0.00913,"y":0.0628},{"x":-0.00906,"y":0.0625},
{"x":-0.01004,"y":0.0664},{"x":-0.00997,"y":0.0661},{"x":-0.0099,"y":0.0658},{"x":-0.00983,"y":0.0655},{"x":-0.00976,"y":0.0652},{"x":-0.00969,"y":0.0649},{"x":-0.00962,"y":0.0646},{"x":-0.00955,"y":0.0643},{"x":-0.00948,"y":0.064},{"x":-0.00941,"y":0.0637},{"x":-0.00934,"y":0.0634},{"x":-0.00927,"y":0.0631},{"x":-0.0092,"y":0.0628},{"x":-0.00913,"y":0.0625},{"x":-0.00906,"y":0.0622},
{"x":-0.01004,"y":0.0661},{"x":-0.00997,"y":0.0658},{"x":-0.0099,"y":0.0655},{"x":-0.00983,"y":0.0652},{"x":-0.00976,"y":0.0649},{"x":-0.00969,"y":0.0646},{"x":-0.00962,"y":0.0643},{"x":-0.00955,"y":0.064},{"x":-0.00948,"y":0.0637},{"x":-0.00941,"y":0.0634},{"x":-0.00934,"y":0.0631},{"x":-0.00927,"y":0.0628},{"x":-0.0092,"y":0.0625},{"x":-0.00913,"y":0.0622},{"x":-0.00906,"y":0.0619},
{"x":-0.01004,"y":0.0658},{"x":-0.00997,"y":0.0655},{"x":-0.0099,"y":0.0652},{"x":-0.00983,"y":0.0649},{"x":-0.00976,"y":0.0646},{"x":-0.00969,"y":0.0643},{"x":-0.00962,"y":0.064},{"x":-0.00955,"y":0.0637},{"x":-0.00948,"y":0.0634},{"x":-0.00941,"y":0.0631},{"x":-0.00934,"y":0.0628},{"x":-0.00927,"y":0.0625},{"x":-0.0092,"y":0.0622},{"x":-0.00913,"y":0.0619},{"x":-0.00906,"y":0.0616},
{"x":-0.01004,"y":0.0654},{"x":-0.00997,"y":0.0651},{"x":-0.0099,"y":0.0648},{"x":-0.00983,"y":0.0645},{"x":-0.00976,"y":0.0642},{"x":-0.00969,"y":0.0639},{"x":-0.00962,"y":0.0636},{"x":-0.00955,"y":0.0633},{"x":-0.00948,"y":0.063},{"x":-0.00941,"y":0.0627},{"x":-0.00934,"y":0.0624},{"x":-0.00927,"y":0.0621},{"x":-0.0092,"y":0.0618},{"x":-0.00913,"y":0.0615},{"x":-0.00906,"y":0.0612},
{"x":-0.01004,"y":0.0649},{"x":-0.00997,"y":0.0646},{"x":-0.0099,"y":0.0643},{"x":-0.00983,"y":0.064},{"x":-0.00976,"y":0.0637},{"x":-0.00969,"y":0.0634},{"x":-0.00962,"y":0.0631},{"x":-0.00955,"y":0.0628},{"x":-0.00948,"y":0.0625},{"x":-0.00941,"y":0.0622},{"x":-0.00934,"y":0.0619},{"x":-0.00927,"y":0.0616},{"x":-0.0092,"y":0.0613},{"x":-0.00913,"y":0.061},{"x":-0.00906,"y":0.0607},
{"x":-0.01004,"y":0.0644},{"x":-0.00997,"y":0.0641},{"x":-0.0099,"y":0.0638},{"x":-0.00983,"y":0.0635},{"x":-0.00976,"y":0.0632},{"x":-0.00969,"y":0.0629},{"x":-0.00962,"y":0.0626},{"x":-0.00955,"y":0.0623},{"x":-0.00948,"y":0.062},{"x":-0.00941,"y":0.0617},{"x":-0.00934,"y":0.0614},{"x":-0.00927,"y":0.0611},{"x":-0.0092,"y":0.0608},{"x":-0.00913,"y":0.0605},{"x":-0.00906,"y":0.0602},
{"x":-0.01004,"y":0.0639},{"x":-0.00997,"y":0.0636},{"x":-0.0099,"y":0.0633},{"x":-0.00983,"y":0.063},{"x":-0.00976,"y":0.0627},{"x":-0.00969,"y":0.0624},{"x":-0.00962,"y":0.0621},{"x":-0.00955,"y":0.0618},{"x":-0.00948,"y":0.0615},{"x":-0.00941,"y":0.0612},{"x":-0.00934,"y":0.0609},{"x":-0.00927,"y":0.0606},{"x":-0.0092,"y":0.0603},{"x":-0.00913,"y":0.06},{"x":-0.00906,"y":0.0597},
{"x":-0.01004,"y":0.0634},{"x":-0.00997,"y":0.0631},{"x":-0.0099,"y":0.0628},{"x":-0.00983,"y":0.0625},{"x":-0.00976,"y":0.0622},{"x":-0.00969,"y":0.0619},{"x":-0.00962,"y":0.0616},{"x":-0.00955,"y":0.0613},{"x":-0.00948,"y":0.061},{"x":-0.00941,"y":0.0607},{"x":-0.00934,"y":0.0604},{"x":-0.00927,"y":0.0601},{"x":-0.0092,"y":0.0598},{"x":-0.00913,"y":0.0595},{"x":-0.00906,"y":0.0592},
{"x":-0.01004,"y":0.0629},{"x":-0.00997,"y":0.0626},{"x":-0.0099,"y":0.0623},{"x":-0.00983,"y":0.062},{"x":-0.00976,"y":0.0617},{"x":-0.00969,"y":0.0614},{"x":-0.00962,"y":0.0611},{"x":-0.00955,"y":0.0608},{"x":-0.00948,"y":0.0605},{"x":-0.00941,"y":0.0602},{"x":-0.00934,"y":0.0599},{"x":-0.00927,"y":0.0596},{"x":-0.0092,"y":0.0593},{"x":-0.00913,"y":0.059},{"x":-0.00906,"y":0.0587},
{"x":-0.01004,"y":0.0624},{"x":-0.00997,"y":0.0621},{"x":-0.0099,"y":0.0618},{"x":-0.00983,"y":0.0615},{"x":-0.00976,"y":0.0612},{"x":-0.00969,"y":0.0609},{"x":-0.00962,"y":0.0606},{"x":-0.00955,"y":0.0603},{"x":-0.00948,"y":0.06},{"x":-0.00941,"y":0.0597},{"x":-0.00934,"y":0.0594},{"x":-0.00927,"y":0.0591},{"x":-0.0092,"y":0.0588},{"x":-0.00913,"y":0.0585},{"x":-0.00906,"y":0.0582},
{"x":-0.01004,"y":0.0619},{"x":-0.00997,"y":0.0616},{"x":-0.0099,"y":0.0613},{"x":-0.00983,"y":0.061},{"x":-0.00976,"y":0.0607},{"x":-0.00969,"y":0.0604},{"x":-0.00962,"y":0.0601},{"x":-0.00955,"y":0.0598},{"x":-0.00948,"y":0.0595},{"x":-0.00941,"y":0.0592},{"x":-0.00934,"y":0.0589},{"x":-0.00927,"y":0.0586},{"x":-0.0092,"y":0.0583},{"x":-0.00913,"y":0.058},{"x":-0.00906,"y":0.0577},
{"x":-0.01004,"y":0.0614},{"x":-0.00997,"y":0.0611},{"x":-0.0099,"y":0.0608},{"x":-0.00983,"y":0.0605},{"x":-0.00976,"y":0.0602},{"x":-0.00969,"y":0.0599},{"x":-0.00962,"y":0.0596},{"x":-0.00955,"y":0.0593},{"x":-0.00948,"y":0.059},{"x":-0.00941,"y":0.0587},{"x":-0.00934,"y":0.0584},{"x":-0.00927,"y":0.0581},{"x":-0.0092,"y":0.0578},{"x":-0.00913,"y":0.0575},{"x":-0.00906,"y":0.0572},
{"x":-0.01004,"y":0.0609},{"x":-0.00997,"y":0.0606},{"x":-0.0099,"y":0.0603},{"x":-0.00983,"y":0.06},{"x":-0.00976,"y":0.0597},{"x":-0.00969,"y":0.0594},{"x":-0.00962,"y":0.0591},{"x":-0.00955,"y":0.0588},{"x":-0.00948,"y":0.0585},{"x":-0.00941,"y":0.0582},{"x":-0.00934,"y":0.0579},{"x":-0.00927,"y":0.0576},{"x":-0.0092,"y":0.0573},{"x":-0.00913,"y":0.057},{"x":-0.00906,"y":0.0567},
{"x":-0.01004,"y":0.0604},{"x":-0.00997,"y":0.0601},{"x":-0.0099,"y":0.0598},{"x":-0.00983,"y":0.0595},{"x":-0.00976,"y":0.0592},{"x":-0.00969,"y":0.0589},{"x":-0.00962,"y":0.0586},{"x":-0.00955,"y":0.0583},{"x":-0.00948,"y":0.058},{"x":-0.00941,"y":0.0577},{"x":-0.00934,"y":0.0574},{"x":-0.00927,"y":0.0571},{"x":-0.0092,"y":0.0568},{"x":-0.00913,"y":0.0565},{"x":-0.00906,"y":0.0562},
{"x":-0.01004,"y":0.0599},{"x":-0.00997,"y":0.0596},{"x":-0.0099,"y":0.0593},{"x":-0.00983,"y":0.059},{"x":-0.00976,"y":0.0587},{"x":-0.00969,"y":0.0584},{"x":-0.00962,"y":0.0581},{"x":-0.00955,"y":0.0578},{"x":-0.00948,"y":0.0575},{"x":-0.00941,"y":0.0572},{"x":-0.00934,"y":0.0569},{"x":-0.00927,"y":0.0566},{"x":-0.0092,"y":0.0563},{"x":-0.00913,"y":0.056},{"x":-0.00906,"y":0.0557},
{"x":-0.01004,"y":0.0594},{"x":-0.00997,"y":0.0591},{"x":-0.0099,"y":0.0588},{"x":-0.00983,"y":0.0585},{"x":-0.00976,"y":0.0582},{"x":-0.00969,"y":0.0579},{"x":-0.00962,"y":0.0576},{"x":-0.00955,"y":0.0573},{"x":-0.00948,"y":0.057},{"x":-0.00941,"y":0.0567},{"x":-0.00934,"y":0.0564},{"x":-0.00927,"y":0.0561},{"x":-0.0092,"y":0.0558},{"x":-0.00913,"y":0.0555},
{"x":-0.01004,"y":0.0589},{"x":-0.00997,"y":0.0586},{"x":-0.0099,"y":0.0583},{"x":-0.00983,"y":0.058},{"x":-0.00976,"y":0.0577},{"x":-0.00969,"y":0.0574},{"x":-0.00962,"y":0.0571},{"x":-0.00955,"y":0.0568},{"x":-0.00948,"y":0.0565},{"x":-0.00941,"y":0.0562},{"x":-0.00934,"y":0.0559},{"x":-0.00927,"y":0.0556},
{"x":-0.01004,"y":0.0584},{"x":-0.00997,"y":0.0581},{"x":-0.0099,"y":0.0578},{"x":-0.00983,"y":0.0575},{"x":-0.00976,"y":0.0572},{"x":-0.00969,"y":0.0569},{"x":-0.00962,"y":0.0566},{"x":-0.00955,"y":0.0563},{"x":-0.00948,"y":0.056},{"x":-0.00941,"y":0.0557},{"x":-0.00934,"y":0.0554},
{"x":-0.01004,"y":0.0579},{"x":-0.00997,"y":0.0576},{"x":-0.0099,"y":0.0573},{"x":-0.00983,"y":0.057},{"x":-0.00976,"y":0.0567},{"x":-0.00969,"y":0.0564},{"x":-0.00962,"y":0.0561},{"x":-0.00955,"y":0.0558},{"x":-0.00948,"y":0.0555},
{"x":-0.01004,"y":0.0574},{"x":-0.00997,"y":0.0571},{"x":-0.0099,"y":0.0568},{"x":-0.00983,"y":0.0565},{"x":-0.00976,"y":0.0562},{"x":-0.00969,"y":0.0559},{"x":-0.00962,"y":0.0556},
{"x":-0.01004,"y":0.0569},{"x":-0.00997,"y":0.0566},{"x":-0.0099,"y":0.0563},{"x":-0.00983,"y":0.056},{"x":-0.00976,"y":0.0557},{"x":-0.00969,"y":0.0554},
{"x":-0.01004,"y":0.0564},{"x":-0.00997,"y":0.0561},{"x":-0.0099,"y":0.0558},{"x":-0.00983,"y":0.0555},
{"x":-0.01004,"y":0.0559},{"x":-0.00997,"y":0.0556},
{"x":-0.01,"y":0.05515},{"x":-0.00993,"y":0.05515},{"x":-0.00986,"y":0.05515},{"x":-0.00979,"y":0.05515},{"x":-0.00972,"y":0.05515},{"x":-0.00965,"y":0.05515},{"x":-0.00958,"y":0.05515},{"x":-0.00951,"y":0.05515},{"x":-0.00944,"y":0.05515},{"x":-0.00937,"y":0.05515},{"x":-0.0093,"y":0.05515},{"x":-0.00923,"y":0.05515},{"x":-0.00916,"y":0.05515},{"x":-0.00909,"y":0.05515},{"x":-0.00903,"y":0.05515},
{"x":-0.009965,"y":0.0548},{"x":-0.009895,"y":0.0548},{"x":-0.009825,"y":0.0548},{"x":-0.009755,"y":0.0548},{"x":-0.009685,"y":0.0548},{"x":-0.009615,"y":0.0548},{"x":-0.009545,"y":0.0548},{"x":-0.009475,"y":0.0548},{"x":-0.009405,"y":0.0548},{"x":-0.009335,"y":0.0548},{"x":-0.009265,"y":0.0548},{"x":-0.009195,"y":0.0548},{"x":-0.009125,"y":0.0548},{"x":-0.009055,"y":0.0548},
{"x":-0.01,"y":0.05445},{"x":-0.00993,"y":0.05445},{"x":-0.00986,"y":0.05445},{"x":-0.00979,"y":0.05445},{"x":-0.00972,"y":0.05445},{"x":-0.00965,"y":0.05445},{"x":-0.00958,"y":0.05445},{"x":-0.00951,"y":0.05445},{"x":-0.00944,"y":0.05445},{"x":-0.00937,"y":0.05445},{"x":-0.0093,"y":0.05445},{"x":-0.00923,"y":0.05445},{"x":-0.00916,"y":0.05445},{"x":-0.00909,"y":0.05445},{"x":-0.00903,"y":0.05445},
{"x":-0.009965,"y":0.0541},{"x":-0.009895,"y":0.0541},{"x":-0.009825,"y":0.0541},{"x":-0.009755,"y":0.0541},{"x":-0.009685,"y":0.0541},{"x":-0.009615,"y":0.0541},{"x":-0.009545,"y":0.0541},{"x":-0.009475,"y":0.0541},{"x":-0.009405,"y":0.0541},{"x":-0.009335,"y":0.0541},{"x":-0.009265,"y":0.0541},{"x":-0.009195,"y":0.0541},{"x":-0.009125,"y":0.0541},{"x":-0.009055,"y":0.0541},
{"x":-0.01,"y":0.05375},{"x":-0.00993,"y":0.05375},{"x":-0.00986,"y":0.05375},{"x":-0.00979,"y":0.05375},{"x":-0.00972,"y":0.05375},{"x":-0.00965,"y":0.05375},{"x":-0.00958,"y":0.05375},{"x":-0.00951,"y":0.05375},{"x":-0.00944,"y":0.05375},{"x":-0.00937,"y":0.05375},{"x":-0.0093,"y":0.05375},{"x":-0.00923,"y":0.05375},{"x":-0.00916,"y":0.05375},{"x":-0.00909,"y":0.05375},{"x":-0.00903,"y":0.05375},
{"x":-0.009965,"y":0.0534},{"x":-0.009895,"y":0.0534},{"x":-0.009825,"y":0.0534},{"x":-0.009755,"y":0.0534},{"x":-0.009685,"y":0.0534},{"x":-0.009615,"y":0.0534},{"x":-0.009545,"y":0.0534},{"x":-0.009475,"y":0.0534},{"x":-0.009405,"y":0.0534},{"x":-0.009335,"y":0.0534},{"x":-0.009265,"y":0.0534},{"x":-0.009195,"y":0.0534},{"x":-0.009125,"y":0.0534},{"x":-0.009055,"y":0.0534},
{"x":-0.01,"y":0.05305},{"x":-0.00993,"y":0.05305},{"x":-0.00986,"y":0.05305},{"x":-0.00979,"y":0.05305},{"x":-0.00972,"y":0.05305},{"x":-0.00965,"y":0.05305},{"x":-0.00958,"y":0.05305},{"x":-0.00951,"y":0.05305},{"x":-0.00944,"y":0.05305},{"x":-0.00937,"y":0.05305},{"x":-0.0093,"y":0.05305},{"x":-0.00923,"y":0.05305},{"x":-0.00916,"y":0.05305},{"x":-0.00909,"y":0.05305},{"x":-0.00903,"y":0.05305},
{"x":-0.009965,"y":0.0527},{"x":-0.009895,"y":0.0527},{"x":-0.009825,"y":0.0527},{"x":-0.009755,"y":0.0527},{"x":-0.009685,"y":0.0527},{"x":-0.009615,"y":0.0527},{"x":-0.009545,"y":0.0527},{"x":-0.009475,"y":0.0527},{"x":-0.009405,"y":0.0527},{"x":-0.009335,"y":0.0527},{"x":-0.009265,"y":0.0527},{"x":-0.009195,"y":0.0527},{"x":-0.009125,"y":0.0527},{"x":-0.009055,"y":0.0527},
{"x":-0.01,"y":0.05235},{"x":-0.00993,"y":0.05235},{"x":-0.00986,"y":0.05235},{"x":-0.00979,"y":0.05235},{"x":-0.00972,"y":0.05235},{"x":-0.00965,"y":0.05235},{"x":-0.00958,"y":0.05235},{"x":-0.00951,"y":0.05235},{"x":-0.00944,"y":0.05235},{"x":-0.00937,"y":0.05235},{"x":-0.0093,"y":0.05235},{"x":-0.00923,"y":0.05235},{"x":-0.00916,"y":0.05235},{"x":-0.00909,"y":0.05235},{"x":-0.00903,"y":0.05235},
{"x":-0.009965,"y":0.052},{"x":-0.009895,"y":0.052},{"x":-0.009825,"y":0.052},{"x":-0.009755,"y":0.052},{"x":-0.009685,"y":0.052},{"x":-0.009615,"y":0.052},{"x":-0.009545,"y":0.052},{"x":-0.009475,"y":0.052},{"x":-0.009405,"y":0.052},{"x":-0.009335,"y":0.052},{"x":-0.009265,"y":0.052},{"x":-0.009195,"y":0.052},{"x":-0.009125,"y":0.052},{"x":-0.009055,"y":0.052},
{"x":-0.01,"y":0.05165},{"x":-0.00993,"y":0.05165},{"x":-0.00986,"y":0.05165},{"x":-0.00979,"y":0.05165},{"x":-0.00972,"y":0.05165},{"x":-0.00965,"y":0.05165},{"x":-0.00958,"y":0.05165},{"x":-0.00951,"y":0.05165},{"x":-0.00944,"y":0.05165},{"x":-0.00937,"y":0.05165},{"x":-0.0093,"y":0.05165},{"x":-0.00923,"y":0.05165},{"x":-0.00916,"y":0.05165},{"x":-0.00909,"y":0.05165},{"x":-0.00903,"y":0.05165},
{"x":-0.009965,"y":0.0513},{"x":-0.009895,"y":0.0513},{"x":-0.009825,"y":0.0513},{"x":-0.009755,"y":0.0513},{"x":-0.009685,"y":0.0513},{"x":-0.009615,"y":0.0513},{"x":-0.009545,"y":0.0513},{"x":-0.009475,"y":0.0513},{"x":-0.009405,"y":0.0513},{"x":-0.009335,"y":0.0513},{"x":-0.009265,"y":0.0513},{"x":-0.009195,"y":0.0513},{"x":-0.009125,"y":0.0513},{"x":-0.009055,"y":0.0513},
{"x":-0.01,"y":0.05095},{"x":-0.00993,"y":0.05095},{"x":-0.00986,"y":0.05095},{"x":-0.00979,"y":0.05095},{"x":-0.00972,"y":0.05095},{"x":-0.00965,"y":0.05095},{"x":-0.00958,"y":0.05095},{"x":-0.00951,"y":0.05095},{"x":-0.00944,"y":0.05095},{"x":-0.00937,"y":0.05095},{"x":-0.0093,"y":0.05095},{"x":-0.00923,"y":0.05095},{"x":-0.00916,"y":0.05095},{"x":-0.00909,"y":0.05095},{"x":-0.00903,"y":0.05095},
{"x":-0.009965,"y":0.0506},{"x":-0.009895,"y":0.0506},{"x":-0.009825,"y":0.0506},{"x":-0.009755,"y":0.0506},{"x":-0.009685,"y":0.0506},{"x":-0.009615,"y":0.0506},{"x":-0.009545,"y":0.0506},{"x":-0.009475,"y":0.0506},{"x":-0.009405,"y":0.0506},{"x":-0.009335,"y":0.0506},{"x":-0.009265,"y":0.0506},{"x":-0.009195,"y":0.0506},{"x":-0.009125,"y":0.0506},{"x":-0.009055,"y":0.0506},
{"x":-0.01,"y":0.05025},{"x":-0.00993,"y":0.05025},{"x":-0.00986,"y":0.05025},{"x":-0.00979,"y":0.05025},{"x":-0.00972,"y":0.05025},{"x":-0.00965,"y":0.05025},{"x":-0.00958,"y":0.05025},{"x":-0.00951,"y":0.05025},{"x":-0.00944,"y":0.05025},{"x":-0.00937,"y":0.05025},{"x":-0.0093,"y":0.05025},{"x":-0.00923,"y":0.05025},{"x":-0.00916,"y":0.05025},{"x":-0.00909,"y":0.05025},{"x":-0.00903,"y":0.05025},
{"x":-0.01006,"y":0.0673},{"x":-0.01006,"y":0.06695},{"x":-0.01006,"y":0.0666},{"x":-0.01006,"y":0.06625},{"x":-0.01006,"y":0.0659},{"x":-0.01006,"y":0.06555},{"x":-0.01006,"y":0.0652},{"x":-0.01006,"y":0.06485},{"x":-0.01006,"y":0.0645},{"x":-0.01006,"y":0.06415},{"x":-0.01006,"y":0.0638},{"x":-0.01006,"y":0.06345},{"x":-0.01006,"y":0.0631},{"x":-0.01006,"y":0.06275},{"x":-0.01006,"y":0.0624},{"x":-0.01006,"y":0.06205},{"x":-0.01006,"y":0.0617},{"x":-0.01006,"y":0.06135},{"x":-0.01006,"y":0.061},{"x":-0.01006,"y":0.06065},{"x":-0.01006,"y":0.0603},{"x":-0.01006,"y":0.05995},{"x":-0.01006,"y":0.0596},{"x":-0.01006,"y":0.05925},{"x":-0.01006,"y":0.0589},{"x":-0.01006,"y":0.05855},{"x":-0.01006,"y":0.0582},{"x":-0.01006,"y":0.05785},{"x":-0.01006,"y":0.0575},{"x":-0.01006,"y":0.05715},{"x":-0.01006,"y":0.0568},{"x":-0.01006,"y":0.05645},{"x":-0.01006,"y":0.0561},{"x":-0.01006,"y":0.05575},{"x":-0.01006,"y":0.0554},{"x":-0.01006,"y":0.05505},{"x":-0.01006,"y":0.0547},{"x":-0.01006,"y":0.05435},{"x":-0.01006,"y":0.054},{"x":-0.01006,"y":0.05365},{"x":-0.01006,"y":0.0533},{"x":-0.01006,"y":0.05295},{"x":-0.01006,"y":0.0526},{"x":-0.01006,"y":0.05225},{"x":-0.01006,"y":0.0519},{"x":-0.01006,"y":0.05155},{"x":-0.01006,"y":0.0512},
{"x":-0.009005,"y":0.0631},{"x":-0.009005,"y":0.06275},{"x":-0.009005,"y":0.0624},{"x":-0.009005,"y":0.06205},{"x":-0.009005,"y":0.0617},{"x":-0.009005,"y":0.06135},{"x":-0.009005,"y":0.061},{"x":-0.009005,"y":0.06065},{"x":-0.009005,"y":0.0603},{"x":-0.009005,"y":0.05995},{"x":-0.009005,"y":0.0596},{"x":-0.009005,"y":0.05925},{"x":-0.009005,"y":0.0589},{"x":-0.009005,"y":0.05855},{"x":-0.009005,"y":0.0582},{"x":-0.009005,"y":0.05785},{"x":-0.009005,"y":0.0575},{"x":-0.009005,"y":0.05715},{"x":-0.009005,"y":0.0568},{"x":-0.009005,"y":0.05645},{"x":-0.009005,"y":0.0561},{"x":-0.009005,"y":0.05575},{"x":-0.009005,"y":0.0554},{"x":-0.009005,"y":0.05505},{"x":-0.009005,"y":0.0547},{"x":-0.009005,"y":0.05435},{"x":-0.009005,"y":0.054},{"x":-0.009005,"y":0.05365},{"x":-0.009005,"y":0.0533},{"x":-0.009005,"y":0.05295},{"x":-0.009005,"y":0.0526},{"x":-0.009005,"y":0.05225},{"x":-0.009005,"y":0.0519},{"x":-0.009005,"y":0.05155},{"x":-0.009005,"y":0.0512},{"x":-0.009005,"y":0.05085},{"x":-0.009005,"y":0.0505},{"x":-0.009005,"y":0.05015}]
},
"hconcat":[
{"width":482,"height":384,
"title":{"text":"a) level 1-1: multiple surrogate model","orient":"bottom","anchor":"middle","font":"Liberation Serif","fontSize":20,"fontWeight":"normal","color":"black","offset":26,"dx":-52},
"encoding":{
"x":{"field":"x","type":"quantitative","scale":{"domain":[-0.009,-0.005],"nice":false,"zero":false},"axis":{"values":[-0.009,-0.008,-0.007,-0.006,-0.005],"labelExpr":"replace(format(datum.value,'.3f'),'−','-')","title":"-|Fₓ,ₛₜ| (mN/m)","titlePadding":14,"labelPadding":7}},
"y":{"field":"y","type":"quantitative","scale":{"domain":[0,0.02],"nice":false,"zero":false},"axis":{"values":[0,0.005,0.01,0.015,0.02],"format":".3f","title":"Pₜ (W)","titlePadding":10}}},
"layer":[
{"data":{"name":"l_pred"},"mark":{"type":"point","filled":true,"opacity":1,"size":80},
"encoding":{"color":{"datum":"predicted, level 1-1 MS","type":"nominal","scale":{"domain":["design points, level 1-1","predicted, level 1-1 MS","Pareto front"],"range":["black","blue","red"]},"legend":{"title":null,"orient":"none","legendX":17,"legendY":-1}},
"shape":{"datum":"predicted, level 1-1 MS","type":"nominal","scale":{"domain":["design points, level 1-1","predicted, level 1-1 MS","Pareto front"],"range":["triangle-down","M -0.34 0 A 0.34 0.34 0 1 1 0.34 0 A 0.34 0.34 0 1 1 -0.34 0 Z","triangle-up"]},"legend":{"title":null,"orient":"none","legendX":17,"legendY":-1}}}},
{"data":{"name":"l_par"},"mark":{"type":"point","filled":true,"opacity":1,"size":80},
"encoding":{"color":{"datum":"Pareto front","type":"nominal"},"shape":{"datum":"Pareto front","type":"nominal"}}},
{"data":{"name":"l_des"},"mark":{"type":"point","filled":true,"opacity":1,"size":80},
"encoding":{"color":{"datum":"design points, level 1-1","type":"nominal"},"shape":{"datum":"design points, level 1-1","type":"nominal"}}}
]},
{"width":485,"height":384,
"title":{"text":"b) level 1-2: polynomial response surface","orient":"bottom","anchor":"middle","font":"Liberation Serif","fontSize":20,"fontWeight":"normal","color":"black","offset":26,"dx":-52},
"encoding":{
"x":{"field":"x","type":"quantitative","scale":{"domain":[-0.014,-0.009],"nice":false,"zero":false},"axis":{"values":[-0.014,-0.013,-0.012,-0.011,-0.01,-0.009],"labelExpr":"replace(format(datum.value,'.3f'),'−','-')","title":"-|Fₓ,ₛₜ| (mN/m)","titlePadding":14,"labelPadding":7}},
"y":{"field":"y","type":"quantitative","scale":{"domain":[0.05,0.07],"nice":false,"zero":false},"axis":{"values":[0.05,0.055,0.06,0.065,0.07],"format":".3f","title":"Pₜ (W)","titlePadding":10}}},
"layer":[
{"data":{"name":"r_cols"},"mark":{"type":"point","opacity":1,"size":80,"strokeWidth":1.5},
"encoding":{"fill":{"datum":"predicted, level1-2 PRS","type":"nominal","scale":{"domain":["design points, level1-2","predicted, level1-2 PRS","Pareto front"],"range":["transparent","blue","red"]},"legend":{"title":null,"orient":"none","legendX":19,"legendY":0}},
"stroke":{"datum":"predicted, level1-2 PRS","type":"nominal","scale":{"domain":["design points, level1-2","predicted, level1-2 PRS","Pareto front"],"range":["black","transparent","transparent"]},"legend":{"title":null,"orient":"none","legendX":19,"legendY":0}},
"shape":{"datum":"predicted, level1-2 PRS","type":"nominal","scale":{"domain":["design points, level1-2","predicted, level1-2 PRS","Pareto front"],"range":["triangle-down","M -0.42 0 A 0.42 0.42 0 1 1 0.42 0 A 0.42 0.42 0 1 1 -0.42 0 Z","triangle-up"]},"legend":{"title":null,"orient":"none","legendX":19,"legendY":0}}}},
{"data":{"name":"r_dense"},"mark":{"type":"point","opacity":1,"size":160,"strokeWidth":1.5},
"encoding":{"fill":{"datum":"predicted, level1-2 PRS","type":"nominal"},"stroke":{"datum":"predicted, level1-2 PRS","type":"nominal"},"shape":{"datum":"predicted, level1-2 PRS","type":"nominal"}}},
{"data":{"name":"r_par"},"mark":{"type":"point","opacity":1,"size":80,"strokeWidth":1.5},
"encoding":{"fill":{"datum":"Pareto front","type":"nominal"},"stroke":{"datum":"Pareto front","type":"nominal"},"shape":{"datum":"Pareto front","type":"nominal"}}},
{"data":{"name":"r_des"},"mark":{"type":"point","opacity":1,"size":70,"strokeWidth":1.5},
"encoding":{"fill":{"datum":"design points, level1-2","type":"nominal"},"stroke":{"datum":"design points, level1-2","type":"nominal"},"shape":{"datum":"design points, level1-2","type":"nominal"}}}
]}
],
"resolve":{"scale":{"x":"independent","y":"independent","color":"independent","fill":"independent","stroke":"independent","shape":"independent"},"legend":{"color":"independent","fill":"independent","stroke":"independent","shape":"independent"}}
}
